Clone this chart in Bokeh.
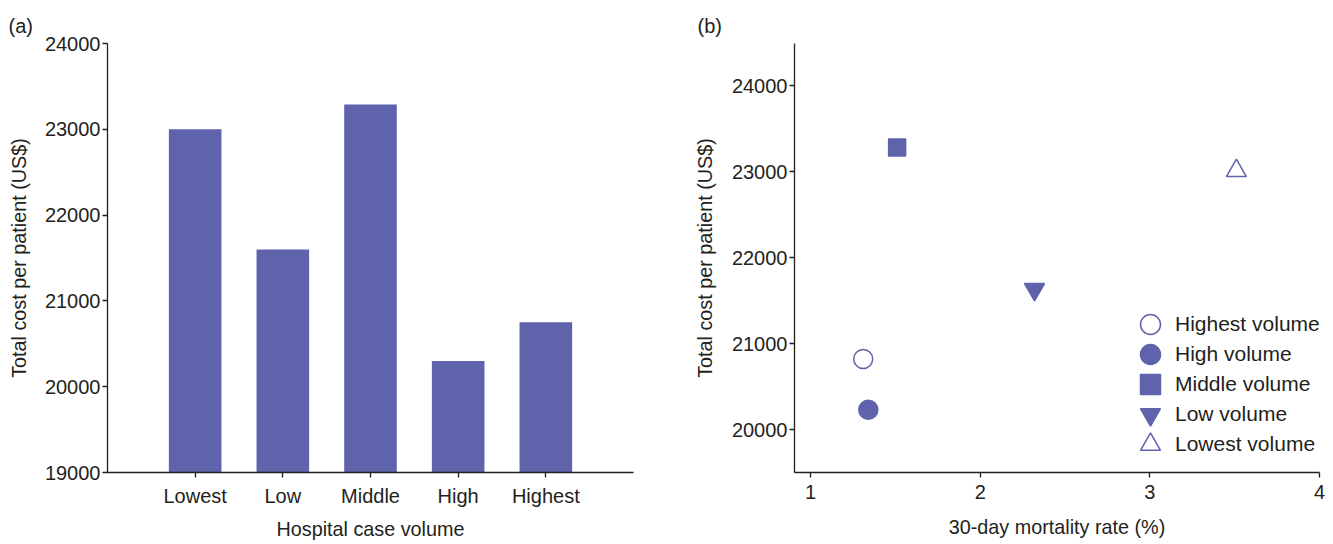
from bokeh.plotting import figure
from bokeh.layouts import row
from bokeh.models import Range1d, FixedTicker, Legend, LegendItem
from bokeh.embed import file_html
from bokeh.resources import INLINE

# ---- data ----
categories = ["Lowest", "Low", "Middle", "High", "Highest"]
bar_costs = [23000, 21600, 23290, 20300, 20750]

series_names = ["Highest volume", "High volume", "Middle volume", "Low volume", "Lowest volume"]
mortality = [1.31, 1.34, 1.51, 2.32, 3.51]
scatter_costs = [20820, 20230, 23280, 21630, 23010]

bar_yticks = [19000, 20000, 21000, 22000, 23000, 24000]
sc_yticks = [20000, 21000, 22000, 23000, 24000]
sc_xticks = [1, 2, 3, 4]

COL = "#5f63ab"
TXT = "#231f20"
FONT = "Liberation Sans"
FS = "19.8px"


def style(p, panel_label, offset):
    p.xgrid.visible = False
    p.ygrid.visible = False
    p.outline_line_color = None
    p.background_fill_color = "white"
    p.border_fill_color = "white"
    p.title.text = panel_label
    p.title.align = "left"
    p.title.vertical_align = "top"
    p.title.offset = offset
    p.title.standoff = 10
    p.title.text_font = FONT
    p.title.text_font_size = "20px"
    p.title.text_font_style = "normal"
    p.title.text_color = TXT
    for ax in (p.xaxis[0], p.yaxis[0]):
        ax.axis_line_color = TXT
        ax.axis_line_width = 1.3
        ax.major_tick_line_color = TXT
        ax.major_tick_line_width = 1.3
        ax.major_tick_out = 5
        ax.major_tick_in = 0
        ax.minor_tick_line_color = None
        ax.major_label_text_font = FONT
        ax.major_label_text_font_size = "20px"
        ax.major_label_text_color = TXT
        ax.axis_label_text_font = FONT
        ax.axis_label_text_font_size = FS
        ax.axis_label_text_font_style = "normal"
        ax.axis_label_text_color = TXT
    p.yaxis[0].major_label_standoff = 2
    p.xaxis[0].major_label_standoff = 7


# ---- panel (a) ----
pa = figure(width=668, height=544, output_backend="svg", toolbar_location=None,
            x_range=Range1d(0, 6), y_range=Range1d(19000, 24000),
            min_border_left=107, min_border_right=35, min_border_top=43, min_border_bottom=72)
xs = list(range(1, len(categories) + 1))
pa.vbar(x=xs, top=bar_costs, bottom=19000, width=0.6, fill_color=COL, line_color=None)
style(pa, "(a)", -99)
pa.xaxis[0].ticker = FixedTicker(ticks=xs)
pa.xaxis[0].major_label_overrides = {i: c for i, c in zip(xs, categories)}
pa.yaxis[0].ticker = FixedTicker(ticks=bar_yticks)
pa.xaxis[0].axis_label = "Hospital case volume"
pa.yaxis[0].axis_label = "Total cost per patient (US$)"
pa.xaxis[0].axis_label_standoff = 8
pa.yaxis[0].axis_label_standoff = 12

# ---- panel (b) ----
pb = figure(width=665, height=544, output_backend="svg", toolbar_location=None,
            x_range=Range1d(0.905, 4.0), y_range=Range1d(19500, 24490),
            min_border_left=126, min_border_right=14, min_border_top=43, min_border_bottom=70)
style(pb, "(b)", -97)
pb.xaxis[0].ticker = FixedTicker(ticks=sc_xticks)
pb.yaxis[0].ticker = FixedTicker(ticks=sc_yticks)
pb.xaxis[0].axis_label = "30-day mortality rate (%)"
pb.yaxis[0].axis_label = "Total cost per patient (US$)"
pb.xaxis[0].axis_label_standoff = 14
pb.yaxis[0].axis_label_standoff = 13

markers = ["circle", "circle", "square", "inverted_triangle", "triangle"]
fills = ["white", COL, COL, COL, "white"]
sizes = [19, 19, 17, 20, 20]
leg_bottoms = [123, 93, 63, 33, 3]
for i, name in enumerate(series_names):
    r = pb.scatter(x=[mortality[i]], y=[scatter_costs[i]], marker=markers[i], size=sizes[i],
                   fill_color=fills[i], line_color=COL, line_width=1.5)
    leg = Legend(items=[LegendItem(label=name, renderers=[r])],
                 location=(331, leg_bottoms[i]), padding=0, margin=0, spacing=0,
                 glyph_width=50, glyph_height=50, label_height=30, label_standoff=-2,
                 border_line_color=None, background_fill_alpha=0,
                 label_text_font=FONT, label_text_font_size="21px", label_text_color=TXT)
    pb.add_layout(leg, "center")

layout = row(pa, pb)
open("out.html", "w").write(file_html(layout, INLINE))
